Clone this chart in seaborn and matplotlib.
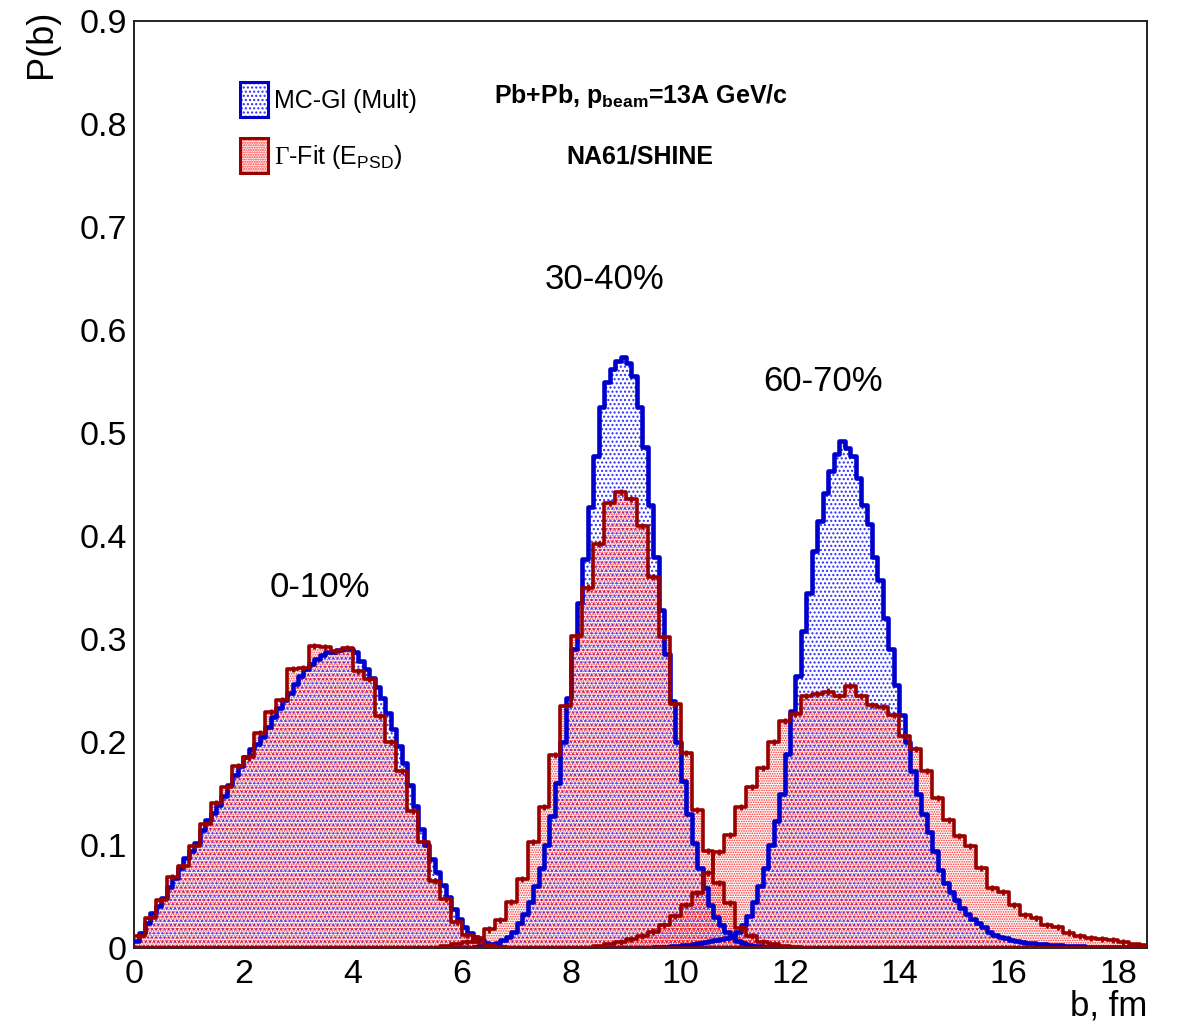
import numpy as np
import pandas as pd
import matplotlib
matplotlib.use("Agg")
import matplotlib.pyplot as plt
from matplotlib.patches import Patch
from matplotlib.legend_handler import HandlerTuple
from matplotlib.ticker import MultipleLocator, FormatStrFormatter
import seaborn as sns

# ---------------------------------------------------------------- data
# P(b) per bin. Gamma-fit (E_PSD) histograms use 0.2 fm bins,
# MC-Glauber (multiplicity) histograms use 0.1 fm bins.
RED_WIDTH = 0.2
BLUE_WIDTH = 0.1
B_RANGE = 18.6

# 0-10% centrality class
red_0_10_start = 0.0
red_0_10 = [0.012, 0.029, 0.047, 0.069, 0.080, 0.099, 0.120, 0.141, 0.156, 0.177,
            0.185, 0.209, 0.229, 0.241, 0.271, 0.272, 0.293, 0.292, 0.288, 0.291,
            0.269, 0.261, 0.225, 0.200, 0.172, 0.133, 0.1025, 0.065, 0.0475, 0.025,
            0.013, 0.006, 0.003, 0.001]
blue_0_10_start = 0.0
blue_0_10 = [0.007, 0.015, 0.024, 0.034, 0.041, 0.049, 0.059, 0.068, 0.078, 0.087,
             0.094, 0.102, 0.115, 0.124, 0.131, 0.139, 0.148, 0.158, 0.168, 0.177,
             0.185, 0.193, 0.198, 0.205, 0.215, 0.224, 0.233, 0.241, 0.248, 0.256,
             0.264, 0.271, 0.276, 0.281, 0.284, 0.287, 0.287, 0.289, 0.290, 0.290,
             0.287, 0.279, 0.271, 0.262, 0.253, 0.243, 0.228, 0.213, 0.196, 0.180,
             0.158, 0.138, 0.116, 0.100, 0.086, 0.074, 0.061, 0.050, 0.038, 0.028,
             0.020, 0.015, 0.011, 0.008, 0.005, 0.003, 0.002, 0.001]

# 30-40% centrality class
red_30_40_start = 5.6
red_30_40 = [0.002, 0.004, 0.006, 0.010, 0.018, 0.027, 0.045, 0.067, 0.103, 0.137,
             0.187, 0.235, 0.303, 0.350, 0.392, 0.432, 0.443, 0.436, 0.410, 0.360,
             0.302, 0.237, 0.189, 0.134, 0.094, 0.063, 0.044, 0.019, 0.012, 0.006,
             0.004, 0.002, 0.001]
blue_30_40_start = 6.2
blue_30_40 = [0.001, 0.002, 0.003, 0.004, 0.005, 0.008, 0.011, 0.016, 0.024, 0.033,
              0.045, 0.060, 0.078, 0.100, 0.128, 0.160, 0.200, 0.243, 0.290, 0.335,
              0.378, 0.428, 0.478, 0.525, 0.550, 0.562, 0.570, 0.574, 0.568, 0.555,
              0.525, 0.486, 0.430, 0.380, 0.328, 0.285, 0.240, 0.200, 0.162, 0.130,
              0.102, 0.078, 0.058, 0.042, 0.030, 0.022, 0.016, 0.011, 0.007, 0.005,
              0.003, 0.002, 0.002, 0.001, 0.001]

# 60-70% centrality class
red_60_70_start = 8.4
red_60_70 = [0.002, 0.004, 0.006, 0.009, 0.012, 0.016, 0.022, 0.031, 0.042, 0.053,
             0.073, 0.093, 0.110, 0.137, 0.156, 0.175, 0.200, 0.220, 0.227, 0.245,
             0.247, 0.249, 0.245, 0.254, 0.245, 0.236, 0.234, 0.226, 0.206, 0.193,
             0.172, 0.146, 0.124, 0.109, 0.099, 0.078, 0.058, 0.054, 0.042, 0.032,
             0.029, 0.022, 0.020, 0.015, 0.012, 0.010, 0.009, 0.008, 0.006, 0.004,
             0.003]
blue_60_70_start = 9.5
blue_60_70 = [0.001, 0.001, 0.001, 0.002, 0.002, 0.003, 0.003, 0.004, 0.005, 0.006,
              0.007, 0.008, 0.009, 0.010, 0.012, 0.016, 0.022, 0.031, 0.045, 0.060,
              0.078, 0.100, 0.123, 0.150, 0.188, 0.230, 0.264, 0.308, 0.345, 0.385,
              0.415, 0.442, 0.463, 0.480, 0.492, 0.485, 0.478, 0.456, 0.430, 0.412,
              0.380, 0.357, 0.320, 0.290, 0.255, 0.226, 0.200, 0.172, 0.150, 0.130,
              0.113, 0.094, 0.076, 0.063, 0.054, 0.047, 0.039, 0.033, 0.028, 0.024,
              0.020, 0.016, 0.013, 0.011, 0.010, 0.008, 0.007, 0.006, 0.005, 0.005,
              0.004, 0.004, 0.003, 0.003, 0.003, 0.002, 0.002, 0.002, 0.002, 0.001,
              0.001, 0.001, 0.001, 0.001, 0.001, 0.001, 0.001, 0.001, 0.001, 0.001]

RED_ERR = 0.003  # statistical error bar half-length of the fit histograms

class_labels = ["0-10%", "30-40%", "60-70%"]
class_label_pos = [(3.40, 0.350), (8.60, 0.649), (12.60, 0.550)]

legend_labels = ["MC-Gl (Mult)", r"$\Gamma$-Fit (E$_{\mathsf{PSD}}$)"]
system_text = r"Pb+Pb, p$_{\mathbf{beam}}$=13A GeV/c"
experiment_text = "NA61/SHINE"

# ---------------------------------------------------------------- style
BLUE_LINE = "#0000cc"
BLUE_DOTS = "#2a2aff"
RED_LINE = "#990000"
RED_DOTS = "#ff2a2a"
BLUE_HATCH = "...."
RED_HATCH = "......."
BLUE_HATCH_LW = 1.0
RED_HATCH_LW = 0.8

sns.set_theme(style="white")
plt.rcParams.update({
    "mathtext.fontset": "custom",
    "mathtext.rm": "Liberation Serif",
    "mathtext.sf": "Liberation Sans",
    "mathtext.bf": "Liberation Sans:bold",
    "mathtext.it": "Liberation Sans:italic",
    "text.color": "black",
    "axes.labelcolor": "black",
})
plt.rcParams["font.family"] = ["Liberation Sans", "DejaVu Sans"]

fig = plt.figure(figsize=(11.77, 10.28), dpi=100)
ax = fig.add_axes([134 / 1177, 1 - 948 / 1028, (1147 - 134) / 1177, (948 - 21) / 1028])


def draw_hist(start, width, values, line_color, dot_color, hatch, hatch_lw, lw, z):
    values = np.asarray(values, dtype=float)
    centers = start + width * (np.arange(len(values)) + 0.5)
    df = pd.DataFrame({"b": centers, "p": values})
    common = dict(data=df, x="b", weights="p", binwidth=width,
                  binrange=(0, B_RANGE), element="step", ax=ax)
    # dotted fill
    n_before = len(ax.collections)
    with plt.rc_context({"hatch.linewidth": hatch_lw}):
        sns.histplot(fill=True, color=dot_color, **common)
    poly = ax.collections[n_before]
    poly.set_facecolor("none")
    poly.set_edgecolor(dot_color)
    poly.set_hatch(hatch)
    poly.set_linewidth(0)
    poly.set_alpha(1)
    poly.set_zorder(z)
    # outline
    sns.histplot(fill=False, color=line_color, linewidth=lw, zorder=z + 3, **common)
    return centers, values


for start, vals in [(blue_0_10_start, blue_0_10), (blue_30_40_start, blue_30_40),
                    (blue_60_70_start, blue_60_70)]:
    draw_hist(start, BLUE_WIDTH, vals, BLUE_LINE, BLUE_DOTS, BLUE_HATCH,
              BLUE_HATCH_LW, 3.3, 1)

for start, vals in [(red_0_10_start, red_0_10), (red_30_40_start, red_30_40),
                    (red_60_70_start, red_60_70)]:
    c, v = draw_hist(start, RED_WIDTH, vals, RED_LINE, RED_DOTS, RED_HATCH,
                     RED_HATCH_LW, 2.6, 2)
    m = v > 0.004
    ax.errorbar(c[m], v[m], yerr=RED_ERR, fmt="none", ecolor=RED_LINE,
                elinewidth=2.0, capsize=0, zorder=6)

# ---------------------------------------------------------------- axes
ax.set_xlim(0, 18.53)
ax.set_ylim(0, 0.9)
ax.set_xlabel("")
ax.set_ylabel("")
ax.xaxis.set_major_locator(MultipleLocator(2))
ax.xaxis.set_minor_locator(MultipleLocator(0.5))
ax.yaxis.set_major_locator(MultipleLocator(0.1))
ax.yaxis.set_minor_locator(MultipleLocator(0.02))
ax.yaxis.set_major_formatter(FormatStrFormatter("%g"))
ax.xaxis.set_major_formatter(FormatStrFormatter("%g"))
ax.tick_params(axis="both", which="both", direction="in", color="black",
               top=False, right=False, labelsize=24.5, labelcolor="black")
ax.tick_params(axis="y", which="major", length=23, width=1.1, pad=5)
ax.tick_params(axis="y", which="minor", length=11.5, width=1.1)
ax.tick_params(axis="x", which="major", length=19, width=1.1, pad=8)
ax.tick_params(axis="x", which="minor", length=9.5, width=1.1)
for s in ax.spines.values():
    s.set_visible(True)
    s.set_color("#222222")
    s.set_linewidth(1.4)
ax.set_facecolor("white")

fig.text(41 / 1177, 1 - 10 / 1028, "P(b)", rotation=90, ha="center", va="top",
         fontsize=26)
fig.text(1147 / 1177, 1 - 1006 / 1028, "b, fm", ha="right", va="center",
         fontsize=25)

for lab, (bx, by) in zip(class_labels, class_label_pos):
    ax.text(bx, by, lab, ha="center", va="center", fontsize=25)

# legend
with plt.rc_context({"hatch.linewidth": BLUE_HATCH_LW}):
    blue_fill = Patch(facecolor="white", edgecolor=BLUE_DOTS, hatch=BLUE_HATCH, linewidth=0)
with plt.rc_context({"hatch.linewidth": RED_HATCH_LW}):
    red_fill = Patch(facecolor="white", edgecolor=RED_DOTS, hatch=RED_HATCH, linewidth=0)
blue_handle = (blue_fill, Patch(facecolor="none", edgecolor=BLUE_LINE, linewidth=2.2))
red_handle = (red_fill, Patch(facecolor="none", edgecolor=RED_LINE, linewidth=2.2))
leg = ax.legend([blue_handle, red_handle], legend_labels,
                handler_map={tuple: HandlerTuple(ndivide=1, pad=0)},
                loc="upper left", bbox_to_anchor=(240 / 1177, 1 - 82 / 1028),
                bbox_transform=fig.transFigure, frameon=False, fontsize=18,
                handlelength=1.1, handleheight=1.8, handletextpad=0.25,
                labelspacing=0.83, borderpad=0, borderaxespad=0)

fig.text(494 / 1177, 1 - 96 / 1028, system_text, ha="left", va="center",
         fontsize=18, fontweight="bold")
fig.text(640 / 1177, 1 - 157 / 1028, experiment_text, ha="center", va="center",
         fontsize=18, fontweight="bold")

fig.savefig("out.png", dpi=100, facecolor="white")
